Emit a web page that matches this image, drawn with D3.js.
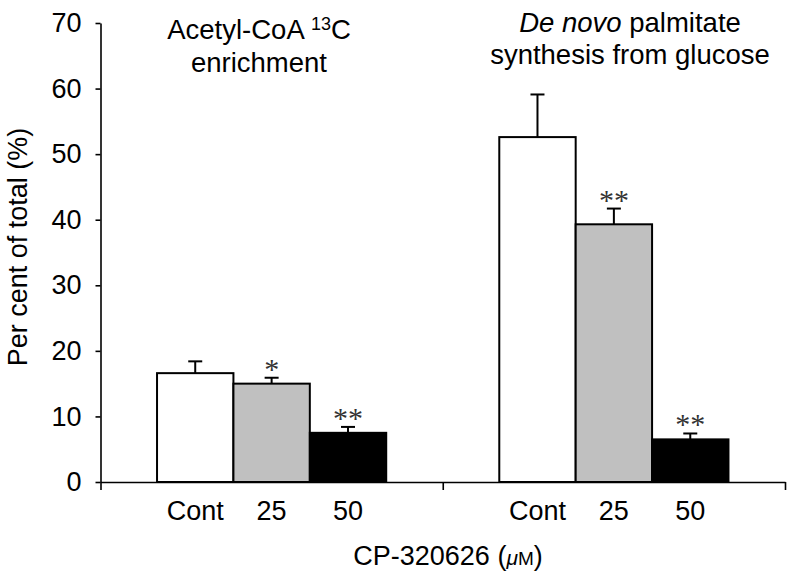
<!DOCTYPE html>
<html><head><meta charset="utf-8">
<script src="https://cdn.jsdelivr.net/npm/d3@7"></script>
<style>body{margin:0;background:#fff}</style>
</head><body>
<svg id="chart" width="787" height="574"></svg>
<script>
const groups = ["Acetyl-CoA", "Palmitate"];
const conditions = ["Cont", "25", "50"];
const acetylValues = [16.6, 15.0, 7.5];
const acetylErrors = [1.8, 0.9, 0.9];
const palmitateValues = [52.6, 39.3, 6.5];
const palmitateErrors = [6.5, 2.4, 0.9];
const acetylStars = ["", "*", "**"];
const palmitateStars = ["", "**", "**"];
const yTicks = [0, 10, 20, 30, 40, 50, 60, 70];
const fills = ["#ffffff", "#c0c0c0", "#000000"];

const data = [
  {group: groups[0], values: acetylValues, errors: acetylErrors, stars: acetylStars},
  {group: groups[1], values: palmitateValues, errors: palmitateErrors, stars: palmitateStars}
];

const svg = d3.select("#chart");
const font = "'Liberation Sans', Arial, Helvetica, sans-serif";
const x0 = 100.5, x1 = 785, yBase = 482, yTop = 23;

const y = d3.scaleLinear().domain([0, 70]).range([yBase, yTop]);
const xg = d3.scaleBand().domain(groups).range([x0, x1]).paddingInner(0).paddingOuter(0);
const xc = d3.scaleBand().domain(conditions).range([0, xg.bandwidth()]).paddingInner(0).paddingOuter(0.74);

// Y axis
const yAxis = d3.axisLeft(y).tickValues(yTicks).tickSize(5).tickPadding(14).tickSizeOuter(0);
const gy = svg.append("g").attr("transform", `translate(${x0},0)`).call(yAxis);
gy.select(".domain").attr("stroke", "#000").attr("stroke-width", 1.6);
gy.selectAll(".tick line").attr("stroke", "#000").attr("stroke-width", 1.6);
gy.selectAll(".tick text").attr("font-family", font).attr("font-size", 27).attr("fill", "#000");

// X axis (group boundaries as ticks)
const xEdge = d3.scaleLinear().domain([0, 2]).range([x0, x1]);
const xAxis = d3.axisBottom(xEdge).tickValues([0, 1, 2]).tickSize(8).tickSizeOuter(0).tickFormat("");
const gx = svg.append("g").attr("transform", `translate(0,${yBase})`).call(xAxis);
gx.select(".domain").attr("stroke", "#000").attr("stroke-width", 1.6);
gx.selectAll(".tick line").attr("stroke", "#000").attr("stroke-width", 1.6);

// Bars
const gGroups = svg.selectAll("g.grp").data(data).enter().append("g")
  .attr("class", "grp").attr("transform", d => `translate(${xg(d.group)},0)`);

gGroups.each(function(d) {
  const g = d3.select(this);
  const rows = conditions.map((c, i) => ({c, i, v: d.values[i], e: d.errors[i], s: d.stars[i]}));
  const cx = r => xc(r.c) + xc.bandwidth() / 2;
  g.selectAll("line.err").data(rows).enter().append("line")
    .attr("x1", cx).attr("x2", cx)
    .attr("y1", r => y(r.v)).attr("y2", r => y(r.v + r.e))
    .attr("stroke", "#000").attr("stroke-width", 2);
  g.selectAll("line.cap").data(rows).enter().append("line")
    .attr("x1", r => cx(r) - 7).attr("x2", r => cx(r) + 7)
    .attr("y1", r => y(r.v + r.e)).attr("y2", r => y(r.v + r.e))
    .attr("stroke", "#000").attr("stroke-width", 2);
  g.selectAll("rect").data(rows).enter().append("rect")
    .attr("x", r => xc(r.c)).attr("width", xc.bandwidth())
    .attr("y", r => y(r.v)).attr("height", r => yBase - y(r.v))
    .attr("fill", r => fills[r.i]).attr("stroke", "#000").attr("stroke-width", 2);
  g.selectAll("text.star").data(rows.filter(r => r.s)).enter().append("text")
    .attr("x", cx).attr("y", r => y(r.v + r.e) + 1)
    .attr("text-anchor", "middle").attr("font-family", "'Liberation Serif', 'Times New Roman', serif")
    .attr("font-size", 30).attr("fill", "#333").text(r => r.s);
  g.selectAll("text.cat").data(rows).enter().append("text")
    .attr("x", cx).attr("y", 520)
    .attr("text-anchor", "middle").attr("font-family", font).attr("font-size", 27)
    .text(r => r.c);
});

// Titles
const t1 = svg.append("text").attr("x", 259).attr("y", 39).attr("text-anchor", "middle")
  .attr("font-family", font).attr("font-size", 27.5);
t1.append("tspan").text("Acetyl-CoA ");
t1.append("tspan").attr("font-size", 18).attr("dy", -9).text("13");
t1.append("tspan").attr("dy", 9).text("C");
svg.append("text").attr("x", 259).attr("y", 72).attr("text-anchor", "middle")
  .attr("font-family", font).attr("font-size", 27.5).text("enrichment");

const t2 = svg.append("text").attr("x", 630).attr("y", 32).attr("text-anchor", "middle")
  .attr("font-family", font).attr("font-size", 27.5);
t2.append("tspan").attr("font-style", "italic").text("De novo");
t2.append("tspan").text(" palmitate");
svg.append("text").attr("x", 630).attr("y", 64).attr("text-anchor", "middle")
  .attr("font-family", font).attr("font-size", 27.5).text("synthesis from glucose");

// Axis titles
svg.append("text").attr("transform", "translate(27,247) rotate(-90)").attr("text-anchor", "middle")
  .attr("font-family", font).attr("font-size", 27).text("Per cent of total (%)");

const xl = svg.append("text").attr("x", 448).attr("y", 565).attr("text-anchor", "middle")
  .attr("font-family", font).attr("font-size", 27);
xl.append("tspan").text("CP-320626 (");
xl.append("tspan").attr("font-style", "italic").attr("font-size", 21).text("μ");
xl.append("tspan").attr("font-size", 19).text("M");
xl.append("tspan").text(")");
</script>
</body></html>
